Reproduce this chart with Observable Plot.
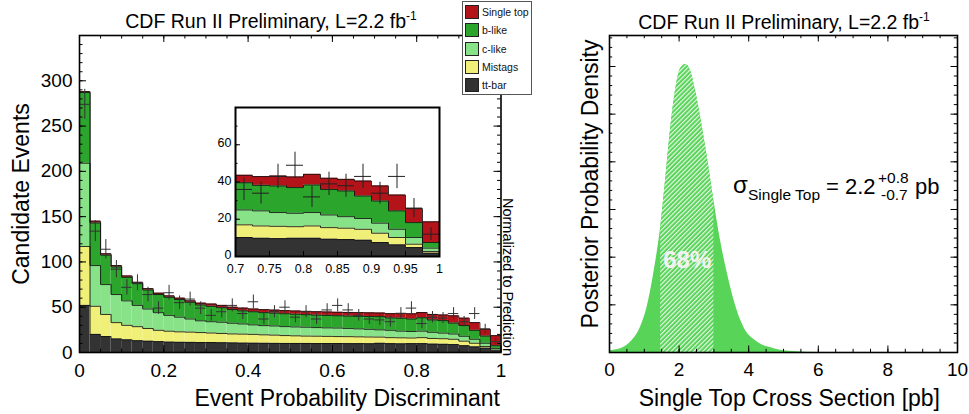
<!DOCTYPE html>
<html><head><meta charset="utf-8">
<script src="https://cdn.jsdelivr.net/npm/d3@7"></script>
<script src="https://cdn.jsdelivr.net/npm/@observablehq/plot@0.6"></script>
<style>
body{margin:0;background:#fff;font-family:"Liberation Sans",Arial,Helvetica,sans-serif;}
#wrap{position:relative;width:969px;height:414px;overflow:hidden;background:#fff;}
.panel{position:absolute;}
#legend{position:absolute;left:462px;top:1px;width:68px;height:92px;border:1px solid #555;background:#fff;font-size:10.5px;}
#legend .row{position:absolute;left:2px;height:14px;}
#legend .sw{position:absolute;left:0;top:0;width:12px;height:12px;border:1px solid #222;}
#legend .lb{position:absolute;left:17px;top:0px;line-height:14px;white-space:nowrap;color:#111;}
</style></head><body><div id="wrap"></div>
<script>
// ---------------- data ----------------
const binLow = d3.range(40).map(i => +(i * 0.025).toFixed(3));
const binWidth = 0.025;
const ttbar = [52,20,17.6,15,14,13,12.5,12,11.5,11.3,11.2,11,11,10.8,10.6,10.4,10.3,10.2,10.1,10,10,10,9.9,9.9,9.9,9.8,9.8,9.7,10.2,9.8,9.6,9.8,9.8,9.3,9.1,8.75,7.5,6.25,4.8,1.8];
const mistags = [65,31,24.4,18,16,15.5,14,12.5,12,11.5,11.3,11,10.5,10.2,9.9,9.9,9.7,9.3,9.1,8.7,8.4,8.1,8.1,7.9,7.7,7.7,7.5,7.4,6.8,6.6,6.6,6.2,6.6,6.2,6.1,5.85,5,3.95,1.8,0.9];
const clike = [92,45,33,31,27,23.5,21.5,19.5,17.5,16.2,14.5,13,12.5,12.4,11.8,11.2,10.5,10.2,10.1,9.9,9.8,9.8,9.5,9.4,9.4,9.1,8.8,8.5,8,8.1,7.4,7.2,7.2,6.8,6.2,5.8,5.4,4.4,3.6,1.8];
const blike = [78,47,32.5,30.5,26,24,21,20,20,19.5,18.5,17.5,17,16.1,15.2,14.5,14.5,14.3,14.2,14.2,14.1,13.9,13.8,13.8,13.6,13.6,13.9,14.2,14.6,13.7,14.3,13.8,14.8,13.7,13.8,12.1,11.9,9.9,8,3];
const singleTop = [1,2,1.5,1.5,1.5,1.5,1.5,1.5,1.5,1.5,1.5,2,2.5,2.5,2.5,3,3,3.3,3.3,3.4,3.5,3.6,3.7,3.7,3.8,4,4,4,4,4.7,5.3,5.7,5.7,6,6.2,8,8.1,8.5,7.5,11.1];
const observed = [274,134,114,92,72,77,64,49,66,55,59,49,41,45,52,43,56,37,45,50,39,45,37,47,52,47,41,37,36,34,43,49,32,39,38,43,34,43,26,12];

const layerNames = ["tt-bar","Mistags","c-like","b-like","Single top"];
const layerColors = ["#333333","#f0f078","#88e288","#2ca52c","#b41419"];

const mainXTicks = [0,0.2,0.4,0.6,0.8,1];
const mainYTicks = [0,50,100,150,200,250,300];
const insetXTicks = [0.7,0.75,0.8,0.85,0.9,0.95,1];
const insetYTicks = [0,20,40,60];

const postX = [0,0.32,0.65,0.89,1.08,1.27,1.47,1.61,1.75,1.90,2.04,2.19,2.33,2.47,2.62,2.81,3.0,3.19,3.39,3.58,3.86,4.25,4.73,5.3,6.0,10];
const postY = [0.004,0.008,0.025,0.053,0.095,0.165,0.263,0.36,0.465,0.55,0.595,0.604,0.591,0.55,0.493,0.41,0.319,0.235,0.165,0.109,0.053,0.022,0.008,0.002,0,0];
const interval68 = [1.47, 3.0];
const postXTicks = [0,2,4,6,8,10];

// ---------------- build tables ----------------
const FONT = '"Liberation Sans", Arial, Helvetica, sans-serif';
const series = [ttbar, mistags, clike, blike, singleTop];
const rects = [];
const tops = series.map(() => []);
binLow.forEach((x0, i) => {
  let acc = 0;
  series.forEach((vals, k) => {
    const y1 = acc; acc += vals[i];
    rects.push({x1: x0, x2: x0 + binWidth, y1, y2: acc, layer: layerNames[k]});
    tops[k].push({x: x0, y: acc});
  });
});
tops.forEach(t => t.push({x: 1, y: t[t.length - 1].y}));
const points = binLow.map((x0, i) => ({
  x1: x0, x2: x0 + binWidth, xc: x0 + binWidth / 2, n: observed[i],
  lo: observed[i] - Math.sqrt(observed[i]), hi: observed[i] + Math.sqrt(observed[i])
}));
const colorScale = {domain: layerNames, range: layerColors};

function tickMarks({xMajor, xMinor, yMajor, yMinor, W, H, maj, min, sides = "lrtb"}) {
  const m = [];
  const st = {stroke: "#000", strokeWidth: 1};
  if (sides.includes("b")) {
    m.push(Plot.ruleX(xMajor, {x: d => d, insetTop: H - maj, ...st}));
    m.push(Plot.ruleX(xMinor, {x: d => d, insetTop: H - min, ...st}));
  }
  if (sides.includes("t")) {
    m.push(Plot.ruleX(xMajor, {x: d => d, insetBottom: H - maj, ...st}));
    m.push(Plot.ruleX(xMinor, {x: d => d, insetBottom: H - min, ...st}));
  }
  if (sides.includes("l")) {
    m.push(Plot.ruleY(yMajor, {y: d => d, insetRight: W - maj, ...st}));
    m.push(Plot.ruleY(yMinor, {y: d => d, insetRight: W - min, ...st}));
  }
  if (sides.includes("r")) {
    m.push(Plot.ruleY(yMajor, {y: d => d, insetLeft: W - maj, ...st}));
    m.push(Plot.ruleY(yMinor, {y: d => d, insetLeft: W - min, ...st}));
  }
  return m;
}
const range = (a, b, s) => d3.range(Math.round((b - a) / s) + 1).map(i => +(a + i * s).toFixed(4));

const wrap = document.getElementById("wrap");

// ---------------- main histogram ----------------
const mW = 421.5, mH = 317;
const mainPlot = Plot.plot({
  width: 560, height: 414,
  marginLeft: 79, marginRight: 560 - 79 - mW, marginTop: 35, marginBottom: 414 - 35 - mH,
  style: {fontFamily: FONT, fontSize: "19px", background: "transparent", color: "#000"},
  x: {domain: [0, 1]},
  y: {domain: [0, 350]},
  color: colorScale,
  marks: [
    Plot.rect(rects, {x1: "x1", x2: "x2", y1: "y1", y2: "y2", fill: "layer"}),
    ...tops.map(t => Plot.line(t, {x: "x", y: "y", curve: "step-after", stroke: "#111", strokeWidth: 1, strokeOpacity: 0.85})),
    Plot.ruleX(points, {x: "xc", y1: "lo", y2: "hi", stroke: "#333", strokeWidth: 1}),
    Plot.ruleY(points, {y: "n", x1: "x1", x2: "x2", stroke: "#333", strokeWidth: 1}),
    ...tickMarks({xMajor: mainXTicks, xMinor: range(0, 1, 0.05), yMajor: mainYTicks, yMinor: range(0, 350, 10), W: mW, H: mH, maj: 7, min: 3.5}),
    Plot.frame({stroke: "#000", strokeWidth: 1.6}),
    Plot.axisX({ticks: mainXTicks, tickSize: 0, tickPadding: 11, tickFormat: d => String(d), label: null}),
    Plot.axisY({ticks: mainYTicks, tickSize: 0, tickPadding: 7, tickFormat: d => String(d), label: null})
  ]
});
const mainDiv = document.createElement("div");
mainDiv.className = "panel"; mainDiv.style.left = "0px"; mainDiv.style.top = "0px";
mainDiv.appendChild(mainPlot); wrap.appendChild(mainDiv);
{
  const svg = d3.select(mainPlot);
  const t = svg.append("text").attr("x", 271).attr("y", 28).attr("text-anchor", "middle").style("font-size", "19.5px");
  t.append("tspan").text("CDF Run II Preliminary, L=2.2 fb");
  t.append("tspan").attr("dy", -8).style("font-size", "12px").text("-1");
  svg.append("text").attr("transform", "translate(29,194) rotate(-90)").attr("text-anchor", "middle").style("font-size", "23px").text("Candidate Events");
  svg.append("text").attr("x", 500).attr("y", 406).attr("text-anchor", "end").style("font-size", "23px").text("Event Probability Discriminant");
  svg.append("text").attr("transform", "translate(503,198) rotate(90)").attr("text-anchor", "start").style("font-size", "14.5px").text("Normalized to Prediction");
}

// ---------------- inset ----------------
const iW = 204, iH = 149;
const insetRects = rects.filter(r => r.x1 >= 0.7 - 1e-9);
const insetTops = tops.map(t => t.filter(p => p.x >= 0.7 - 1e-9));
const insetPts = points.filter(p => p.x1 >= 0.7 - 1e-9);
const insetPlot = Plot.plot({
  width: 250, height: 175,
  marginLeft: 35, marginRight: 250 - 35 - iW, marginTop: 7, marginBottom: 175 - 7 - iH,
  style: {fontFamily: FONT, fontSize: "12.5px", background: "transparent", color: "#000"},
  x: {domain: [0.7, 1]},
  y: {domain: [0, 80]},
  color: colorScale,
  marks: [
    Plot.frame({fill: "white"}),
    Plot.rect(insetRects, {x1: "x1", x2: "x2", y1: "y1", y2: "y2", fill: "layer"}),
    ...insetTops.map(t => Plot.line(t, {x: "x", y: "y", curve: "step-after", stroke: "#111", strokeWidth: 1, strokeOpacity: 0.85})),
    Plot.ruleX(insetPts, {x: "xc", y1: "lo", y2: "hi", stroke: "#222", strokeWidth: 1}),
    Plot.ruleY(insetPts, {y: "n", x1: "x1", x2: "x2", stroke: "#222", strokeWidth: 1}),
    ...tickMarks({xMajor: insetXTicks, xMinor: [], yMajor: insetYTicks, yMinor: range(0, 80, 10), W: iW, H: iH, maj: 5, min: 2.5, sides: "lb"}),
    Plot.frame({stroke: "#000", strokeWidth: 2}),
    Plot.axisX({ticks: insetXTicks, tickSize: 0, tickPadding: 8, tickFormat: d => String(d), label: null}),
    Plot.axisY({ticks: insetYTicks, tickSize: 0, tickPadding: 4, dy: -1.5, tickFormat: d => String(d), label: null})
  ]
});
const insetDiv = document.createElement("div");
insetDiv.className = "panel"; insetDiv.style.left = "200px"; insetDiv.style.top = "100px";
insetDiv.appendChild(insetPlot); wrap.appendChild(insetDiv);

// ---------------- legend ----------------
const legend = document.createElement("div");
legend.id = "legend";
[...layerNames].reverse().forEach((name, i) => {
  const row = document.createElement("div");
  row.className = "row"; row.style.top = (3 + i * 18.3) + "px";
  const sw = document.createElement("div"); sw.className = "sw";
  sw.style.background = layerColors[layerNames.indexOf(name)];
  const lb = document.createElement("div"); lb.className = "lb"; lb.textContent = name;
  row.appendChild(sw); row.appendChild(lb); legend.appendChild(row);
});
wrap.appendChild(legend);

// ---------------- posterior ----------------
const pW = 348, pH = 317;
const post = postX.map((x, i) => ({x, y: postY[i]}));
const GREEN = "#58d458";
const postPlot = Plot.plot({
  width: 409, height: 414,
  marginLeft: 49, marginRight: 409 - 49 - pW, marginTop: 35, marginBottom: 414 - 35 - pH,
  style: {fontFamily: FONT, fontSize: "19px", background: "transparent", color: "#000"},
  x: {domain: [0, 10]},
  y: {domain: [0, 0.665]},
  marks: [
    Plot.areaY(post, {x: "x", y: "y", fill: GREEN, curve: "monotone-x"}),
    Plot.areaY(post, {x: "x", y: "y", fill: "url(#hatch)", curve: "monotone-x"}),
    Plot.text([{x: (interval68[0] + interval68[1]) / 2, y: 0.193, t: "68%"}], {x: "x", y: "y", text: "t", fill: "#f2f2f2", fontSize: 24, fontWeight: "bold"}),
    ...tickMarks({xMajor: postXTicks, xMinor: range(0, 10, 0.5), yMajor: range(0, 0.6, 0.1), yMinor: range(0, 0.66, 0.02), W: pW, H: pH, maj: 6.5, min: 3.2}),
    Plot.frame({stroke: "#000", strokeWidth: 1.6}),
    Plot.axisX({ticks: postXTicks, tickSize: 0, tickPadding: 10, tickFormat: d => String(d), label: null}),
    Plot.axisY({ticks: [], label: null})
  ]
});
const postDiv = document.createElement("div");
postDiv.className = "panel"; postDiv.style.left = "560px"; postDiv.style.top = "0px";
postDiv.appendChild(postPlot); wrap.appendChild(postDiv);
{
  const svg = d3.select(postPlot);
  const xs = postPlot.scale("x");
  const defs = svg.insert("defs", ":first-child");
  const pat = defs.append("pattern").attr("id", "hatch").attr("patternUnits", "userSpaceOnUse")
    .attr("width", 3.2).attr("height", 3.2).attr("patternTransform", "rotate(45)");
  pat.append("rect").attr("width", 3.2).attr("height", 3.2).attr("fill", GREEN);
  pat.append("line").attr("x1", 0.6).attr("y1", 0).attr("x2", 0.6).attr("y2", 3.2).attr("stroke", "#ffffff").attr("stroke-width", 1);
  const x0 = xs.apply(interval68[0]), x1 = xs.apply(interval68[1]);
  defs.append("clipPath").attr("id", "hatchClip").append("rect").attr("x", x0).attr("y", 0).attr("width", x1 - x0).attr("height", 414);
  svg.selectAll('[fill="url(#hatch)"]').attr("clip-path", "url(#hatchClip)");
  const t = svg.append("text").attr("x", 224).attr("y", 29).attr("text-anchor", "middle").style("font-size", "19.5px");
  t.append("tspan").text("CDF Run II Preliminary, L=2.2 fb");
  t.append("tspan").attr("dy", -8).style("font-size", "12px").text("-1");
  svg.append("text").attr("transform", "translate(38,184) rotate(-90)").attr("text-anchor", "middle").style("font-size", "23px").text("Posterior Probability Density");
  svg.append("text").attr("x", 380).attr("y", 406).attr("text-anchor", "end").style("font-size", "23px").text("Single Top Cross Section [pb]");
  const ann = svg.append("g").attr("text-anchor", "start");
  ann.append("text").attr("x", 173).attr("y", 193).style("font-size", "24px").text("σ");
  ann.append("text").attr("x", 188).attr("y", 200).style("font-size", "15.5px").text("Single Top");
  ann.append("text").attr("x", 266).attr("y", 193.5).style("font-size", "22px").text("= 2.2");
  ann.append("text").attr("x", 318).attr("y", 182.5).style("font-size", "15.5px").text("+0.8");
  ann.append("text").attr("x", 321).attr("y", 200).style("font-size", "15.5px").text("-0.7");
  ann.append("text").attr("x", 355).attr("y", 193.5).style("font-size", "22px").text("pb");
}
</script></body></html>
